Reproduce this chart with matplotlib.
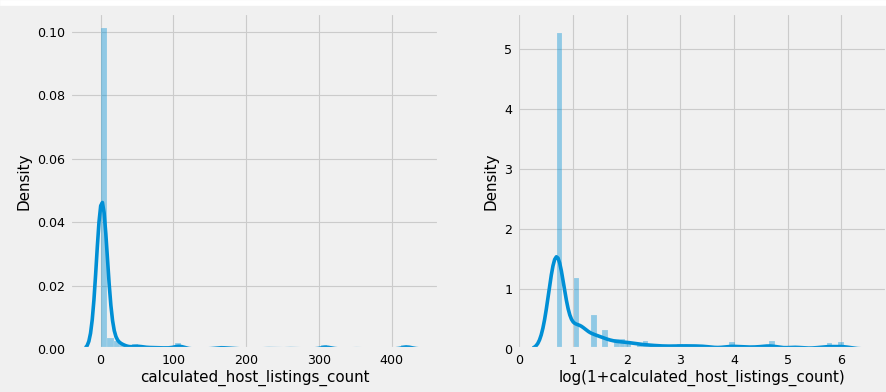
import numpy as np
import matplotlib
matplotlib.use("Agg")
import matplotlib.pyplot as plt
import seaborn as sns
from matplotlib.patches import Rectangle

# value -> number of listings
host_counts = [1, 2, 3, 4, 5, 6, 7, 8, 9,
               10, 11, 12, 13, 14, 15, 16, 17,
               18, 19, 20, 21, 22, 23, 24, 25, 26, 27, 28, 29, 30, 31, 32, 33, 34,
               36, 40, 50, 51,
               60, 65, 70, 75, 80, 85, 90, 95,
               108, 160, 165, 170, 180, 230, 260, 310, 350, 380, 421]
n_listings = [11200, 2520, 1200, 680, 360, 360, 280, 140, 160,
              120, 100, 80, 70, 60, 60, 50, 40,
              60, 55, 60, 45, 40, 45, 40, 40, 35, 35, 30, 35, 35, 30, 30, 35, 30,
              20, 20, 200, 60,
              60, 40, 50, 40, 40, 30, 40, 30,
              300, 50, 50, 60, 40, 40, 40, 200, 30, 20, 220]

raw = np.repeat(host_counts, n_listings).astype(float)
logged = np.log1p(raw)

plt.style.use("fivethirtyeight")
plt.rcParams["font.size"] = 9.1
plt.rcParams["axes.labelsize"] = 10.9
plt.rcParams["xtick.labelsize"] = 9.1
plt.rcParams["ytick.labelsize"] = 9.1
plt.rcParams["grid.linewidth"] = 0.8
plt.rcParams["lines.linewidth"] = 2.6

blue = "#008fd5"

fig = plt.figure(figsize=(8.87, 3.92), dpi=100)
ax1 = fig.add_axes([70 / 887, 43 / 392, 369 / 887, 336 / 392])
ax2 = fig.add_axes([517 / 887, 43 / 392, 370 / 887, 336 / 392])

for ax, data, label in [(ax1, raw, "calculated_host_listings_count"),
                        (ax2, logged, "log(1+calculated_host_listings_count)")]:
    ax.hist(data, bins=50, density=True, color=blue, alpha=0.4,
            edgecolor="#f0f0f0", linewidth=0.3)
    sns.kdeplot(x=data, ax=ax, color=blue, linewidth=2.6, cut=3, bw_adjust=0.85)
    ax.set_xlabel(label, labelpad=2)
    ax.set_ylabel("Density")

ax1.set_xlim(-42, 465)
ax1.set_ylim(0, 0.106)
ax1.set_xticks([0, 100, 200, 300, 400])
ax1.set_yticks([0, 0.02, 0.04, 0.06, 0.08, 0.10])
ax1.set_yticklabels(["0.00", "0.02", "0.04", "0.06", "0.08", "0.10"])

ax2.set_xlim(-0.043, 6.85)
ax2.set_ylim(0, 5.6)
ax2.set_xticks(range(7))
ax2.set_yticks(range(6))

fig.add_artist(Rectangle((0, 1 - 5 / 392), 1, 5 / 392, transform=fig.transFigure,
                         color="white", zorder=10))

fig.savefig("out.png", dpi=100, facecolor="#f0f0f0")
